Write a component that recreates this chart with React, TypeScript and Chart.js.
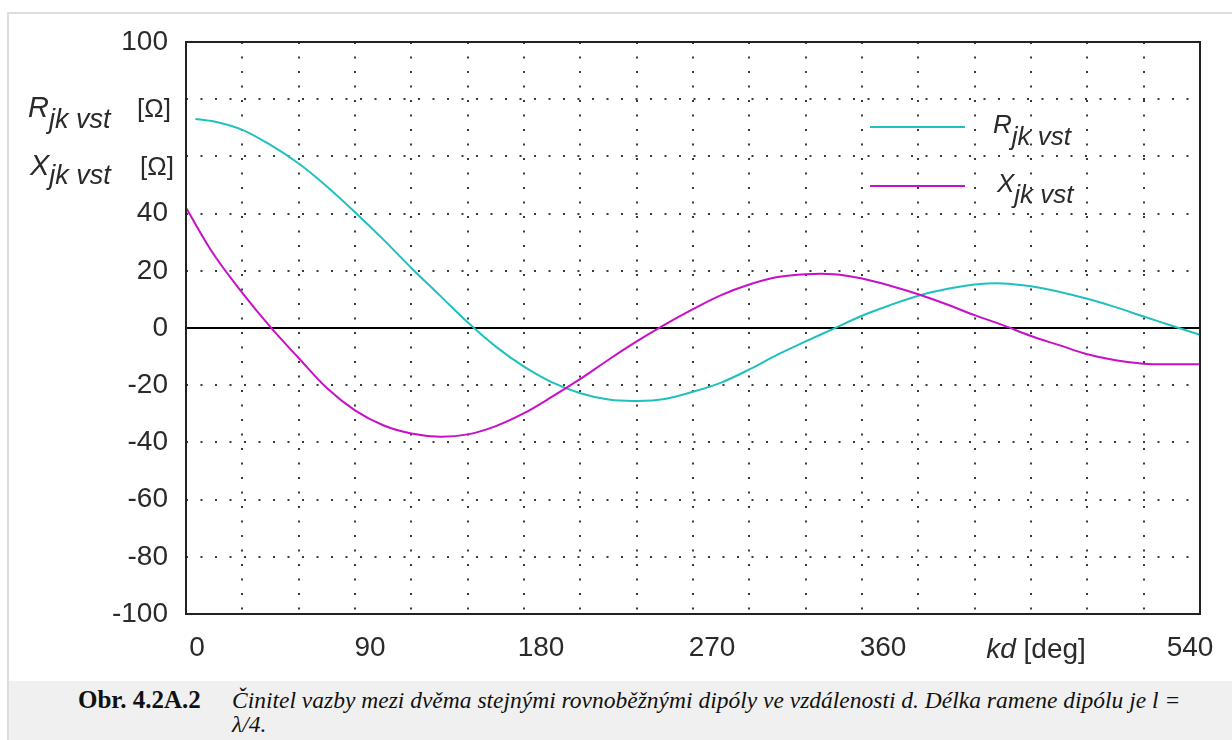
import React, { useEffect, useRef } from 'react';
import { Chart, registerables } from 'chart.js';

Chart.register(...registerables);

// kd [deg] sample positions
const kdX = [0, 15, 30, 45, 60, 75, 90, 105, 120, 135, 150, 165, 180, 195, 210, 225, 240, 255, 270, 285, 300, 315, 330, 345, 360, 375, 390, 405, 420, 435, 450, 465, 480, 495, 510, 525, 540];
const kdR = [5, 15, 30, 45, 60, 75, 90, 105, 120, 135, 150, 165, 180, 195, 210, 225, 240, 255, 270, 285, 300, 315, 330, 345, 360, 375, 390, 405, 420, 435, 450, 465, 480, 495, 510, 525, 540];

// R_jk vst [Ohm]
const rValues = [73.1, 72.2, 69.3, 64, 57.5, 49.5, 40.5, 31, 21, 11.5, 2, -6.5, -13.5, -19, -22.8, -25, -25.5, -24.8, -22.3, -19.1, -14.5, -9.3, -4.7, -0.2, 4.3, 8, 11.3, 13.6, 15.2, 15.6, 14.6, 12.7, 10.2, 7.3, 4, 0.8, -2.4];
// X_jk vst [Ohm]
const xValues = [42, 25.5, 12.3, 0.3, -10.5, -21, -28.8, -34, -36.9, -38, -37.2, -34.3, -29.8, -24, -17.8, -11.1, -4.7, 1.2, 6.6, 11.5, 15.2, 17.8, 18.8, 18.8, 17.3, 14.8, 11.8, 8.3, 4.5, 1, -2.8, -6, -9.2, -11.3, -12.5, -12.7, -12.7];

const xTickValues = [0, 90, 180, 270, 360, 450, 540];
const xTickLabels = ['0', '90', '180', '270', '360', 'kd [deg]', '540'];
const yHiddenTicks = [80, 60];

const CYAN = 'rgb(32,192,192)';
const MAGENTA = 'rgb(200,16,200)';
const SANS = '"Liberation Sans", Arial, sans-serif';
const SERIF = '"Liberation Serif", "Times New Roman", serif';

type Part = { text: string; font: string; dy?: number };

function drawRich(ctx: CanvasRenderingContext2D, x: number, baseline: number, parts: Part[]) {
  let cx = x;
  for (const p of parts) {
    ctx.font = p.font;
    ctx.textBaseline = 'alphabetic';
    ctx.textAlign = 'left';
    ctx.fillText(p.text, cx, baseline + (p.dy || 0));
    cx += ctx.measureText(p.text).width;
  }
  return cx;
}

const decorPlugin = {
  id: 'decor',
  afterDraw(chart: any) {
    const ctx: CanvasRenderingContext2D = chart.ctx;
    const area = chart.chartArea;
    const xs = chart.scales.x;
    ctx.save();
    // frame
    ctx.strokeStyle = '#222';
    ctx.lineWidth = 2;
    ctx.strokeRect(area.left, area.top, area.right - area.left, area.bottom - area.top);

    // x labels
    const offsets = [11, 15, 17, 19, 21, 5, -10];
    ctx.fillStyle = '#2a2a2a';
    xTickValues.forEach((v, i) => {
      const px = xs.getPixelForValue(v) + offsets[i];
      const label = xTickLabels[i];
      if (label.startsWith('kd')) {
        ctx.font = `italic 28px ${SANS}`;
        const w1 = ctx.measureText('kd').width;
        ctx.font = `28px ${SANS}`;
        const w2 = ctx.measureText(' [deg]').width;
        const start = px - (w1 + w2) / 2;
        drawRich(ctx, start, 658, [
          { text: 'kd', font: `italic 28px ${SANS}` },
          { text: ' [deg]', font: `28px ${SANS}` },
        ]);
      } else {
        ctx.font = `28px ${SANS}`;
        ctx.textAlign = 'center';
        ctx.textBaseline = 'middle';
        ctx.fillText(label, px, 648);
      }
    });

    // y axis titles
    ctx.fillStyle = '#2a2a2a';
    drawRich(ctx, 28, 117, [
      { text: 'R', font: `italic 29px ${SANS}` },
      { text: 'jk vst', font: `italic 27px ${SANS}`, dy: 11 },
    ]);
    drawRich(ctx, 137, 117, [{ text: '[Ω]', font: `26px ${SANS}` }]);
    drawRich(ctx, 30, 175, [
      { text: 'X', font: `italic 29px ${SANS}` },
      { text: 'jk vst', font: `italic 27px ${SANS}`, dy: 9 },
    ]);
    drawRich(ctx, 140, 175, [{ text: '[Ω]', font: `26px ${SANS}` }]);

    // legend
    ctx.lineWidth = 2;
    ctx.strokeStyle = CYAN;
    ctx.beginPath();
    ctx.moveTo(870, 127);
    ctx.lineTo(965, 127);
    ctx.stroke();
    ctx.strokeStyle = MAGENTA;
    ctx.beginPath();
    ctx.moveTo(870, 186);
    ctx.lineTo(965, 186);
    ctx.stroke();
    drawRich(ctx, 993, 133, [
      { text: 'R', font: `italic 26px ${SANS}` },
      { text: 'jk vst', font: `italic 26px ${SANS}`, dy: 12 },
    ]);
    drawRich(ctx, 997, 192, [
      { text: 'X', font: `italic 26px ${SANS}` },
      { text: 'jk vst', font: `italic 26px ${SANS}`, dy: 11 },
    ]);
    ctx.restore();
  },
};

function ChartView() {
  const ref = useRef<HTMLCanvasElement | null>(null);
  useEffect(() => {
    if (!ref.current) return;
    const chart = new Chart(ref.current, {
      type: 'line',
      data: {
        datasets: [
          {
            label: 'zero',
            data: [{ x: 0, y: 0 }, { x: 540, y: 0 }],
            borderColor: '#000',
            borderWidth: 2,
            pointRadius: 0,
            order: 3,
          },
          {
            label: 'Rjk vst',
            data: kdR.map((k, i) => ({ x: k, y: rValues[i] })),
            borderColor: CYAN,
            borderWidth: 2,
            pointRadius: 0,
            tension: 0.35,
            order: 2,
          },
          {
            label: 'Xjk vst',
            data: kdX.map((k, i) => ({ x: k, y: xValues[i] })),
            borderColor: MAGENTA,
            borderWidth: 2,
            pointRadius: 0,
            tension: 0.35,
            order: 1,
          },
        ],
      },
      options: {
        responsive: false,
        animation: false,
        layout: { padding: { top: 42, right: 32, left: 0, bottom: 0 } },
        plugins: { legend: { display: false }, tooltip: { enabled: false } },
        scales: {
          x: {
            type: 'linear',
            min: 0,
            max: 540,
            ticks: { stepSize: 30, display: false },
            grid: { color: '#3a3a3a', lineWidth: 2, drawTicks: false },
            border: { display: false, dash: [2, 12.5] },
            afterFit: (s: any) => { s.height = 66; },
          },
          y: {
            type: 'linear',
            min: -100,
            max: 100,
            ticks: {
              stepSize: 20,
              padding: 18,
              color: '#2a2a2a',
              font: { family: SANS, size: 28 },
              callback: (v: any) => (yHiddenTicks.includes(Number(v)) ? '' : String(v)),
            },
            grid: { color: '#3a3a3a', lineWidth: 2, drawTicks: false },
            border: { display: false, dash: [2, 12.5] },
            afterFit: (s: any) => { s.width = 186; },
          },
        },
      },
      plugins: [decorPlugin],
    } as any);
    return () => chart.destroy();
  }, []);
  return <canvas ref={ref} width={1232} height={680} style={{ position: 'absolute', left: 0, top: 0, width: 1232, height: 680 }} />;
}

export default function App() {
  return (
    <div style={{ position: 'fixed', left: 0, top: 0, width: 1232, height: 740, overflow: 'hidden', background: '#fff' }}>
      <div style={{ position: 'absolute', left: 7, top: 12, width: 1240, height: 760, border: '2px solid #dedede', boxSizing: 'border-box' }} />
      <ChartView />
      <div style={{ position: 'absolute', left: 9, top: 681, width: 1223, height: 59, background: '#f0f0f0' }} />
      <div style={{ position: 'absolute', left: 78, top: 688, fontFamily: SERIF, lineHeight: '24px', color: '#111', display: 'flex', alignItems: 'baseline' }}>
        <div style={{ fontWeight: 'bold', fontSize: 25, width: 154, whiteSpace: 'nowrap' }}>Obr. 4.2A.2</div>
        <div style={{ fontStyle: 'italic', fontSize: 23.5, whiteSpace: 'nowrap' }}>
          Činitel vazby mezi dvěma stejnými rovnoběžnými dipóly ve vzdálenosti d. Délka ramene dipólu je l =
          <br />
          λ/4.
        </div>
      </div>
    </div>
  );
}
